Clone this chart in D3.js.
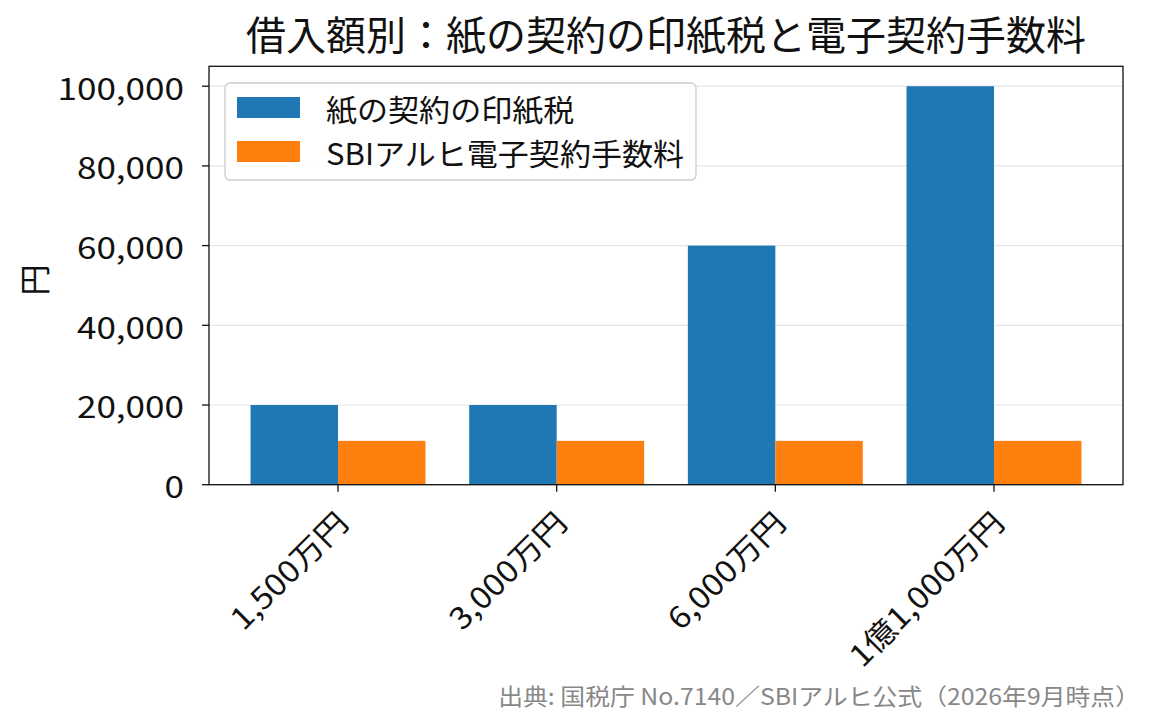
<!DOCTYPE html>
<html><head><meta charset="utf-8">
<script src="https://cdn.jsdelivr.net/npm/d3@7/dist/d3.min.js"></script>
<style>
html,body{margin:0;padding:0;background:#fff;}
text{font-family:"Noto Sans CJK JP","Noto Sans",sans-serif;}
</style></head><body>
<svg id="chart" width="1165" height="725"></svg>
<script>
const categories = ["1,500万円", "3,000万円", "6,000万円", "1億1,000万円"];
const seriesNames = ["紙の契約の印紙税", "SBIアルヒ電子契約手数料"];
const paperStamp = [20000, 20000, 60000, 100000];
const sbiFee = [11000, 11000, 11000, 11000];
const yTicks = [0, 20000, 40000, 60000, 80000, 100000];
const colors = ["#1f77b4", "#ff7f0e"];
const titleText = "借入額別：紙の契約の印紙税と電子契約手数料";
const yLabel = "円";
const sourceText = "出典: 国税庁 No.7140／SBIアルヒ公式（2026年9月時点）";

const svg = d3.select("#chart");
const L = 209, R = 1123, T = 66.3, B = 484.7;
const x = d3.scaleLinear().domain([-0.59, 3.59]).range([L, R]);
const y = d3.scaleLinear().domain([0, 105000]).range([B, T]);
const bw = 0.4;

// grid
svg.append("g").selectAll("line").data(yTicks).join("line")
  .attr("x1", L).attr("x2", R).attr("y1", d => y(d)).attr("y2", d => y(d))
  .attr("stroke", "#e6e6e6").attr("stroke-width", 1.2);

const series = [paperStamp, sbiFee];
series.forEach((vals, si) => {
  svg.append("g").selectAll("rect").data(vals).join("rect")
    .attr("x", (d, i) => x(i - bw + si * bw))
    .attr("width", x(bw) - x(0))
    .attr("y", d => y(d))
    .attr("height", d => y(0) - y(d))
    .attr("fill", colors[si]);
});

// axes frame
svg.append("rect").attr("x", L).attr("y", T).attr("width", R - L).attr("height", B - T)
  .attr("fill", "none").attr("stroke", "#111").attr("stroke-width", 1.3);

// y ticks
const yg = svg.append("g");
yTicks.forEach(t => {
  yg.append("line").attr("x1", L - 7).attr("x2", L).attr("y1", y(t)).attr("y2", y(t))
    .attr("stroke", "#111").attr("stroke-width", 1.3);
  yg.append("text").attr("transform", `translate(${L - 25},${y(t)}) scale(1.17,1)`)
    .attr("text-anchor", "end")
    .attr("dominant-baseline", "central").attr("font-size", 30).attr("fill", "#111")
    .text(d3.format(",")(t));
});

// x ticks
const xg = svg.append("g");
categories.forEach((c, i) => {
  xg.append("line").attr("x1", x(i)).attr("x2", x(i)).attr("y1", B).attr("y2", B + 7)
    .attr("stroke", "#111").attr("stroke-width", 1.3);
  xg.append("text").attr("transform", `translate(${x(i) + 3},${B + 31}) rotate(-45) scale(1.12,1)`)
    .attr("text-anchor", "end").attr("dominant-baseline", "central")
    .attr("font-size", 30).attr("fill", "#111").text(c);
});

// title
svg.append("text").attr("x", (L + R) / 2).attr("y", 33).attr("text-anchor", "middle")
  .attr("dominant-baseline", "central").attr("font-size", 40).attr("fill", "#111").text(titleText);

// y label
svg.append("text").attr("transform", `translate(32,280) rotate(-90)`)
  .attr("text-anchor", "middle").attr("dominant-baseline", "central")
  .attr("font-size", 31).attr("fill", "#111").text(yLabel);

// legend
const lg = svg.append("g");
lg.append("rect").attr("x", 225).attr("y", 83).attr("width", 471).attr("height", 97)
  .attr("rx", 5).attr("fill", "#fff").attr("fill-opacity", 0.8)
  .attr("stroke", "#ccc").attr("stroke-width", 1.3);
seriesNames.forEach((n, i) => {
  lg.append("rect").attr("x", 237).attr("y", 97 + i * 44).attr("width", 63).attr("height", 21)
    .attr("fill", colors[i]);
  lg.append("text").attr("transform", `translate(326,${108 + i * 44}) scale(1.035,1)`)
    .attr("dominant-baseline", "central")
    .attr("font-size", 30).attr("fill", "#111").text(n);
});

// source
svg.append("text").attr("transform", "translate(1140,695) scale(1.08,1)").attr("text-anchor", "end")
  .attr("dominant-baseline", "central").attr("font-size", 23).attr("fill", "#888").text(sourceText);
</script>
</body></html>
